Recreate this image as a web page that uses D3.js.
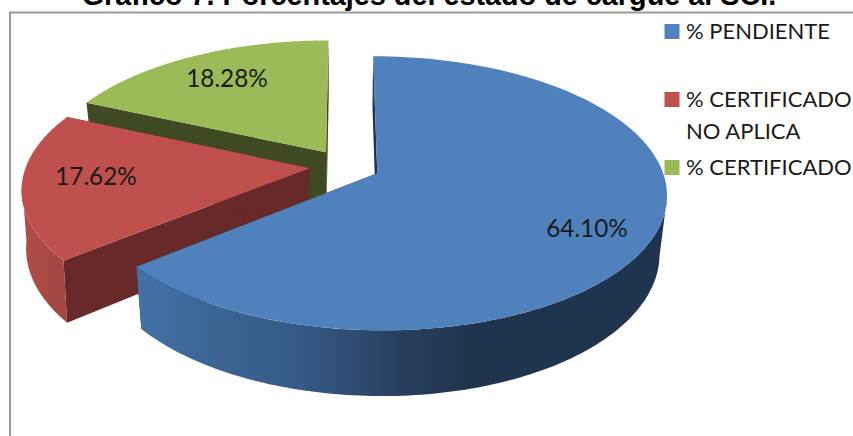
<!DOCTYPE html>
<html>
<head>
<meta charset="utf-8">
<script src="https://cdn.jsdelivr.net/npm/d3@7/dist/d3.min.js"></script>
<style>
  html, body { margin: 0; padding: 0; background: #fff; overflow: hidden; }
  text { font-family: Lato, "Open Sans", sans-serif; fill: #1a1a1a; }
  .title { font-family: "Liberation Sans", Arial, sans-serif; font-weight: bold; fill: #000; }
</style>
</head>
<body>
<div id="chart"></div>
<script>
// Data
const categories = ['% PENDIENTE', '% CERTIFICADO NO APLICA', '% CERTIFICADO'];
const values = [64.10, 17.62, 18.28];
const valueLabels = ['64.10%', '17.62%', '18.28%'];
const titleText = 'Gráfico 7. Porcentajes del estado de cargue al SCI.';

const W = 853, H = 436;
const TOP_COLORS = ['#4f81bd', '#bf504d', '#9bbb59'];
const WALL_COLORS = ['#1f344e', '#682a29', '#3f4a22'];
const EXPLODE = 0.125;

// Perspective projection of the unit disc: top face and the lower face of the extrusion
const TILT = 0.146;
const topFace = { cx: 345, cy: 166, a: 283.6, b: 132 };
const lowFaces = [
  { cx: 345, cy: 223, a: 277, b: 139 },
  { cx: 342, cy: 223, a: 277, b: 139 }, // red sits a little further left in the source
  { cx: 345, cy: 223, a: 277, b: 139 }
];
const project = (face, u, v) => {
  const k = 1 - TILT * v;
  return [face.cx + face.a * u / k, face.cy + face.b * v / k];
};

const pie = d3.pie().sort(null).value(d => d);
const slices = pie(values).map((d, i) => {
  const mid = (d.startAngle + d.endAngle) / 2;
  return {
    i, start: d.startAngle, end: d.endAngle,
    ou: EXPLODE * Math.sin(mid), ov: -EXPLODE * Math.cos(mid)
  };
});

const rimPoint = (s, a) => [s.ou + Math.sin(a), s.ov - Math.cos(a)];
const apex = s => [s.ou, s.ov];
const angleRange = (a0, a1) => d3.range(0, 1.0001, 1 / 120).map(t => a0 + (a1 - a0) * t);

const line = d3.line();
const svg = d3.select('#chart').append('svg').attr('width', W).attr('height', H);
const defs = svg.append('defs');

// Rim shading, left to right along the screen
function rimGradient(id, x0, x1, stops) {
  const grad = defs.append('linearGradient').attr('id', id)
    .attr('gradientUnits', 'userSpaceOnUse')
    .attr('x1', x0).attr('x2', x1).attr('y1', 0).attr('y2', 0);
  grad.selectAll('stop').data(stops).join('stop')
    .attr('offset', d => (d[0] - x0) / (x1 - x0))
    .attr('stop-color', d => d[1]);
}
rimGradient('rim-blue', 137, 670, [
  [137, '#4272a9'], [200, '#3d6797'], [300, '#355a86'], [400, '#28405f'], [470, '#1f344e'], [670, '#1f344e']
]);
rimGradient('rim-red', 20, 70, [[20, '#b24d48'], [70, '#a04540']]);

// Only the part of each rim that faces the viewer (angles in radians); green shows none
const rimRanges = [
  { a0: 1.75, a1: slices[0].end, fill: 'url(#rim-blue)' },
  { a0: slices[1].start, a1: 4.6, fill: 'url(#rim-red)' },
  null
];

// Chart frame
svg.append('path')
  .attr('d', line([[10, H], [10, 12.5], [W, 12.5]]))
  .attr('fill', 'none').attr('stroke', '#999').attr('stroke-width', 2);

// Title, cropped by the top of the picture as in the source
svg.append('text').attr('class', 'title')
  .attr('x', 429).attr('y', 5)
  .attr('text-anchor', 'middle').attr('font-size', 28.8)
  .text(titleText);

function radialWall(s, angle) {
  const r = rimPoint(s, angle), c = apex(s), low = lowFaces[s.i];
  return line([
    project(topFace, ...c), project(topFace, ...r),
    project(low, ...r), project(low, ...c)
  ]) + 'Z';
}

function drawSlice(s) {
  const g = svg.append('g').attr('class', 'slice');
  const wall = WALL_COLORS[s.i];

  // walls meeting at the centre
  g.append('path').attr('d', radialWall(s, s.start)).attr('fill', wall);
  g.append('path').attr('d', radialWall(s, s.end)).attr('fill', wall);

  // outer rim
  const rim = rimRanges[s.i];
  if (rim) {
    const ang = angleRange(rim.a0, rim.a1);
    const upper = ang.map(a => project(topFace, ...rimPoint(s, a)));
    const lower = ang.slice().reverse().map(a => project(lowFaces[s.i], ...rimPoint(s, a)));
    g.append('path').attr('d', line(upper.concat(lower)) + 'Z').attr('fill', rim.fill);
  }

  // top face
  const outline = [project(topFace, ...apex(s))]
    .concat(angleRange(s.start, s.end).map(a => project(topFace, ...rimPoint(s, a))));
  g.append('path').attr('d', line(outline) + 'Z').attr('fill', TOP_COLORS[s.i]);
}

// Back to front: green, red, blue
[slices[2], slices[1], slices[0]].forEach(drawSlice);

// Value labels
const labelX = [587, 96, 227];
const labelY = [237, 185, 87];
svg.append('g').selectAll('text').data(valueLabels).join('text')
  .attr('x', (d, i) => labelX[i])
  .attr('y', (d, i) => labelY[i])
  .attr('text-anchor', 'middle').attr('font-size', 24.3)
  .text(d => d);

// Legend
const legendKeyY = [24, 92, 160];
const legendLines = [[categories[0]], ['% CERTIFICADO', 'NO APLICA'], [categories[2]]];
const legendTextY = [[39], [107, 139], [175]];
const legend = svg.append('g').selectAll('g').data(categories).join('g');
legend.append('rect')
  .attr('x', 664.5).attr('y', (d, i) => legendKeyY[i])
  .attr('width', 15).attr('height', 15)
  .attr('fill', (d, i) => TOP_COLORS[i]);
legend.each(function (d, i) {
  d3.select(this).selectAll('text').data(legendLines[i]).join('text')
    .attr('x', 686)
    .attr('y', (t, j) => legendTextY[i][j])
    .attr('font-size', 22)
    .text(t => t);
});
</script>
</body>
</html>
